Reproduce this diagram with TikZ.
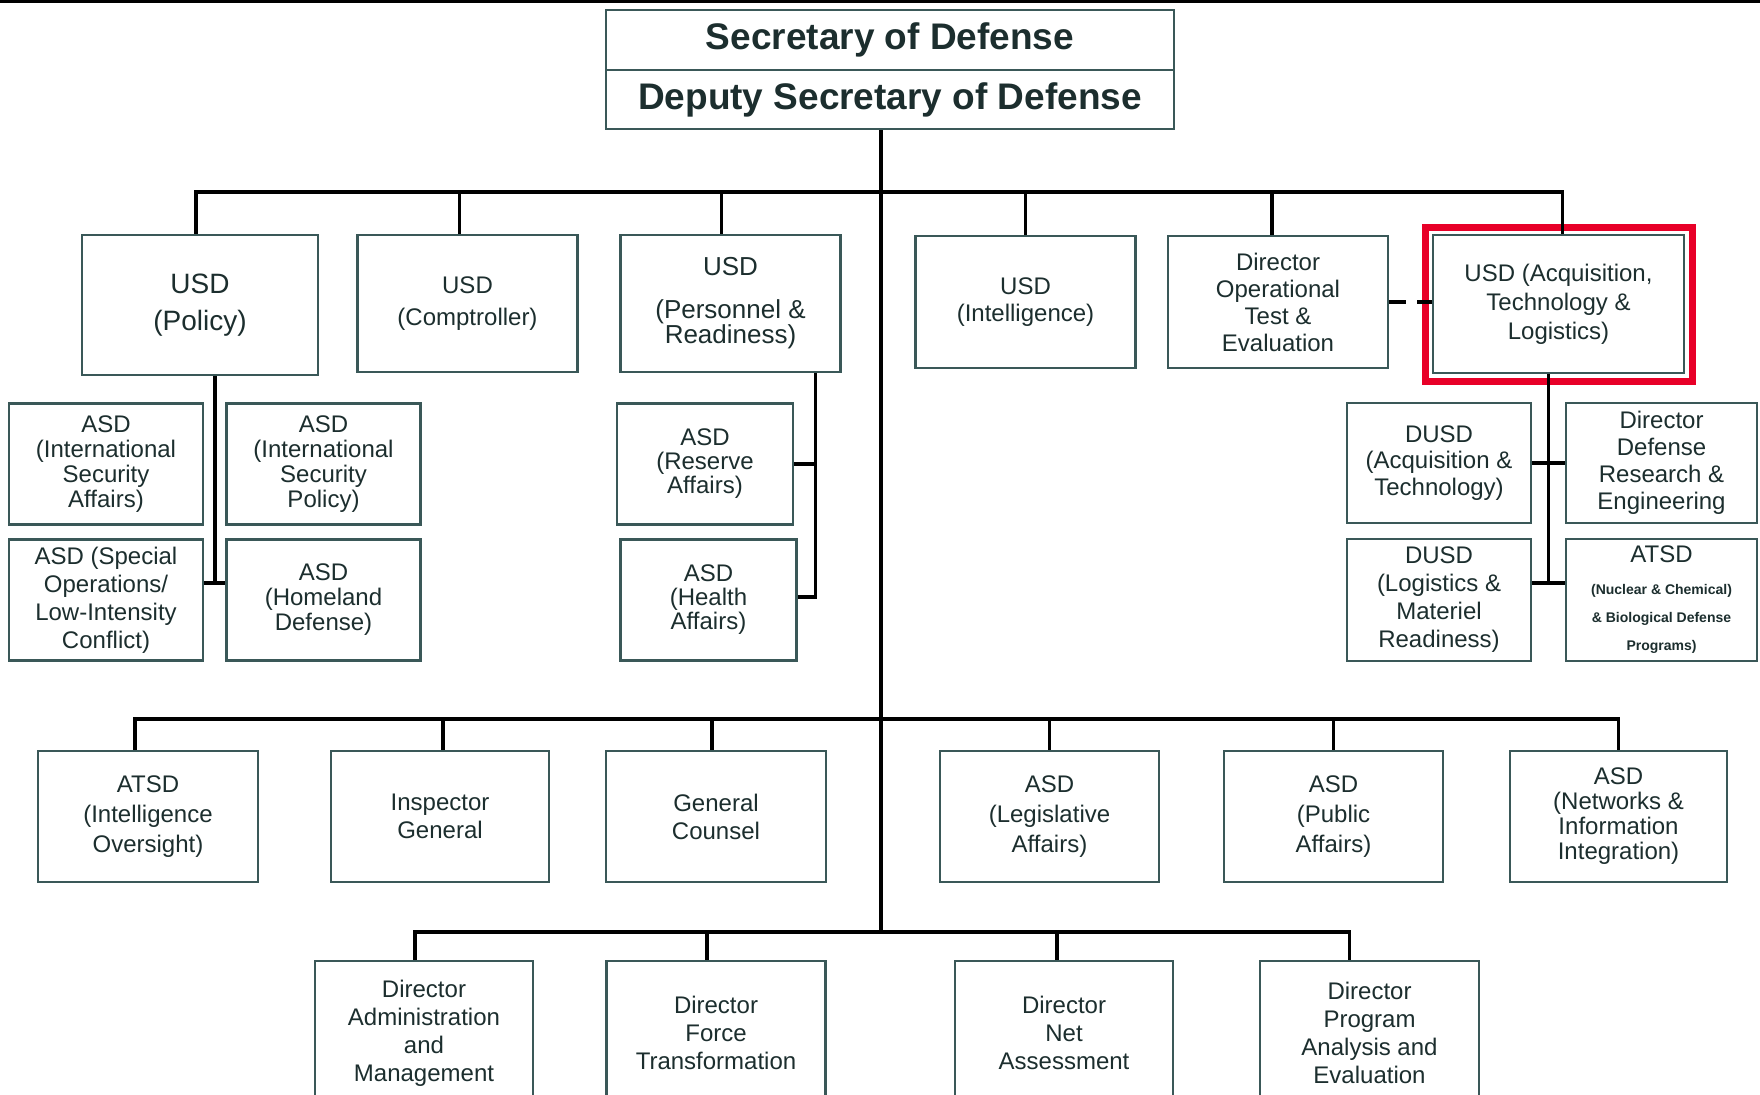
\documentclass[tikz,border=0pt]{standalone}
\usepackage{fontspec}
\setmainfont{Liberation Sans}
\definecolor{boxline}{RGB}{58,88,88}
\definecolor{boxtext}{RGB}{28,46,46}
\definecolor{marker}{RGB}{232,0,40}
\tikzset{
  orgbox/.style={draw=boxline,line width=2.5pt,fill=white,text=boxtext,align=center,inner sep=0pt,font=\fontsize{24}{28}\selectfont},
  rowone/.style={orgbox,minimum width=220pt,minimum height=137pt},
  subbox/.style={orgbox,minimum height=121pt},
  rowthree/.style={orgbox,minimum width=219pt,minimum height=131pt,font=\fontsize{24}{30}\selectfont},
  rowfour/.style={orgbox,minimum width=219pt,minimum height=144pt},
  titlebox/.style={orgbox,minimum width=568pt,font=\fontsize{37}{40}\selectfont\bfseries},
  link/.style={line width=3.5pt,color=black},
  dotlink/.style={line width=4pt,color=black,dash pattern=on 17pt off 11pt},
  hilite/.style={draw=marker,line width=7pt},
}
\begin{document}
\begin{tikzpicture}[x=1pt,y=-1pt]
\useasboundingbox (0,0) rectangle (1760,1094);
\fill[black] (0,0) rectangle (1760,3);
\node[titlebox,minimum height=60pt] (sec) at (890,40) {Secretary of Defense};
\node[titlebox,minimum height=59pt] (dep) at (890,99.5) {Deputy Secretary of Defense};
\coordinate (busA) at (881,192);
\coordinate (busB) at (881,719);
\coordinate (busC) at (881,932);
\node[rowone,minimum width=236pt,minimum height=140pt,font=\fontsize{28}{37}\selectfont] (pol) at (200,305) {USD\\(Policy)};
\node[rowone,font=\fontsize{24}{32}\selectfont] (cmp) at (467.5,303.5) {USD\\(Comptroller)};
\node[rowone,font=\fontsize{26}{25}\selectfont] (pr) at (730.5,303.5) {USD\\[18pt](Personnel \&\\Readiness)};
\node[rowone,minimum height=132pt,font=\fontsize{24}{27}\selectfont] (intl) at (1025.5,302) {USD\\(Intelligence)};
\node[rowone,minimum height=132pt,font=\fontsize{24}{27}\selectfont] (ote) at (1278,302) {Director\\Operational\\Test \&\\Evaluation};
\node[rowone,minimum width=251pt,minimum height=138pt,font=\fontsize{24}{29}\selectfont] (atl) at (1558.5,304) {USD (Acquisition,\\Technology \&\\Logistics)};
\draw[hilite] ([xshift=-6pt,yshift=6pt]atl.north west) rectangle ([xshift=7pt,yshift=-7pt]atl.south east);
\node[subbox,minimum width=194pt,font=\fontsize{24}{25}\selectfont] (isa) at (106,464) {ASD\\(International\\Security\\Affairs)};
\node[subbox,minimum width=194pt,font=\fontsize{24}{25}\selectfont] (isp) at (323.5,464) {ASD\\(International\\Security\\Policy)};
\node[subbox,minimum width=194pt] (solic) at (106,600) {ASD (Special\\Operations/\\Low-Intensity\\Conflict)};
\node[subbox,minimum width=194pt,font=\fontsize{24}{25}\selectfont] (hd) at (323.5,600) {ASD\\(Homeland\\Defense)};
\node[subbox,minimum width=176pt,font=\fontsize{24}{24}\selectfont] (ra) at (705,464) {ASD\\(Reserve\\Affairs)};
\node[subbox,minimum width=176pt,font=\fontsize{24}{24}\selectfont] (ha) at (708.5,600) {ASD\\(Health\\Affairs)};
\node[subbox,minimum width=184pt,minimum height=120pt,font=\fontsize{24}{26.5}\selectfont] (aat) at (1439,463) {DUSD\\(Acquisition \&\\Technology)};
\node[subbox,minimum width=191pt,minimum height=120pt,font=\fontsize{24}{27}\selectfont] (ddre) at (1661.5,463) {Director\\Defense\\Research \&\\Engineering};
\node[subbox,minimum width=184pt,minimum height=122pt] (lmr) at (1439,600) {DUSD\\(Logistics \&\\Materiel\\Readiness)};
\node[subbox,minimum width=191pt,minimum height=122pt] (ncb) at (1661.5,600) {ATSD\\[4pt]{\fontsize{14}{28}\selectfont\bfseries (Nuclear \& Chemical)}\\{\fontsize{14}{28}\selectfont\bfseries \& Biological Defense}\\{\fontsize{14}{28}\selectfont\bfseries Programs)}};
\node[rowthree,minimum width=220pt] (aio) at (148,816.5) {ATSD\\(Intelligence\\Oversight)};
\node[rowthree,minimum width=218pt,font=\fontsize{24}{28}\selectfont] (ig) at (440,816.5) {Inspector\\General};
\node[rowthree,minimum width=220pt,font=\fontsize{24}{28}\selectfont] (gc) at (716,816.5) {General\\Counsel};
\node[rowthree] (la) at (1049.5,816.5) {ASD\\(Legislative\\Affairs)};
\node[rowthree] (pa) at (1333.5,816.5) {ASD\\(Public\\Affairs)};
\node[rowthree,minimum width=217pt,font=\fontsize{24}{25}\selectfont] (nii) at (1618.5,816.5) {ASD\\(Networks \&\\Information\\Integration)};
\node[rowfour,minimum width=218pt] (am) at (424,1033) {Director\\Administration\\and\\Management};
\node[rowfour] (ft) at (716,1033) {Director\\Force\\Transformation};
\node[rowfour,minimum width=218pt] (na) at (1064,1033) {Director\\Net\\Assessment};
\node[rowfour] (pae) at (1369.5,1033) {Director\\Program\\Analysis and\\Evaluation};
\draw[link] (busA |- dep.south) -- (busC);
\draw[link] ([xshift=-4pt]pol.north) |- (busA);
\draw[link] ([xshift=-8pt]cmp.north) |- (busA);
\draw[link] ([xshift=-9pt]pr.north) |- (busA);
\draw[link] (intl.north) |- (busA);
\draw[link] ([xshift=-6pt]ote.north) |- (busA);
\draw[link] ([xshift=4pt]atl.north) |- (busA);
\draw[dotlink] (ote.east) -- (ote.east -| atl.west);
\draw[link] ([xshift=15pt]pol.south) |- ([yshift=17pt]hd.west);
\draw[link] ([yshift=17pt]solic.east) -- ([yshift=17pt]hd.west);
\draw[link] ([xshift=85pt]pr.south) |- ([yshift=3pt]ha.east);
\draw[link] (ra.east) -| ([xshift=85pt]pr.south);
\draw[link] ([xshift=-10pt]atl.south) |- ([yshift=17pt]lmr.east);
\draw[link] (aat.east) -- (ddre.west);
\draw[link] ([yshift=17pt]lmr.east) -- ([yshift=17pt]ncb.west);
\draw[link] ([xshift=-13pt]aio.north) |- (busB);
\draw[link] ([xshift=3pt]ig.north) |- (busB);
\draw[link] ([xshift=-4pt]gc.north) |- (busB);
\draw[link] (la.north) |- (busB);
\draw[link] (pa.north) |- (busB);
\draw[link] (nii.north) |- (busB);
\draw[link] ([xshift=-9pt]am.north) |- (busC);
\draw[link] ([xshift=-9pt]ft.north) |- (busC);
\draw[link] ([xshift=-7pt]na.north) |- (busC);
\draw[link] ([xshift=-20pt]pae.north) |- (busC);
\end{tikzpicture}
\end{document}
